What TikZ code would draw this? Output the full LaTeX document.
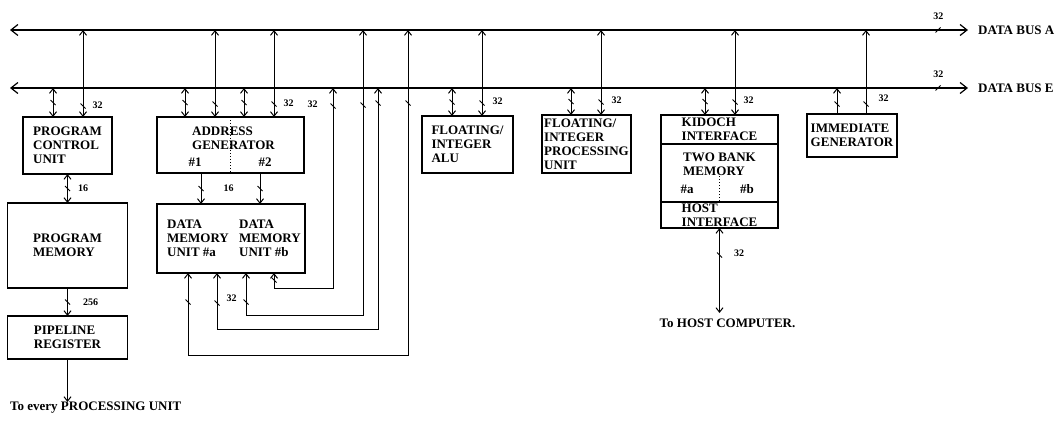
\documentclass[tikz,border=0pt]{standalone}
\usepackage{fontspec}
\setmainfont{Liberation Serif}
\usetikzlibrary{positioning,arrows.meta,decorations.markings}

\begin{document}
\begin{tikzpicture}[x=1pt, y=-1pt,
  unit/.style={draw, line width=1.3pt, outer sep=0pt, inner sep=0pt, align=left,
    font=\bfseries\fontsize{13}{14}\selectfont},
  txt/.style={inner sep=0pt, align=left, font=\bfseries\fontsize{13}{14}\selectfont},
  num/.style={inner sep=0pt, font=\bfseries\fontsize{10}{10}\selectfont},
  bus/.style={line width=1.2pt, {Straight Barb[length=7pt,width=11pt]}-{Straight Barb[length=7pt,width=11pt]}},
  link/.style={line width=1pt, {Straight Barb[length=4.5pt,width=7pt]}-{Straight Barb[length=4.5pt,width=7pt]}},
  feed/.style={line width=1pt, -{Straight Barb[length=4.5pt,width=7pt]}},
  bw/.style={postaction={decorate, decoration={markings,
    mark=at position #1 with {\draw[-, line width=1pt] (-2.5pt,-2.5pt) -- (2.5pt,2.5pt);}}}},
  bw/.default=0.5]
\useasboundingbox (0,0) rectangle (1064,420);

\coordinate (aW) at (10,30);
\coordinate (aE) at (968,30);
\coordinate (eW) at (10,88);
\coordinate (eE) at (968,88);
\draw[bus, bw=-30pt] (aW) -- node[num, pos=0.969, above=10pt] {32} (aE);
\draw[bus, bw=-30pt] (eW) -- node[num, pos=0.969, above=10pt] {32} (eE);
\node[txt, right=10pt of aE] (busA) {DATA BUS A};
\node[txt, right=10pt of eE] (busE) {DATA BUS E};

\node[unit, minimum width=89pt, minimum height=57pt] (pcu) at (67.5,145.5) {PROGRAM\\CONTROL\\UNIT};
\node[unit, minimum width=120pt, minimum height=85pt] (pm) at (67.5,245.5) {PROGRAM\\MEMORY};
\node[unit, minimum width=120pt, minimum height=43pt] (pr) at (67.5,337.5) {PIPELINE\\REGISTER};
\coordinate (pu) at (67.5,402);
\node[txt, anchor=north west] (puText) at (10,402) {To every PROCESSING UNIT};

\node[unit, minimum width=147pt, minimum height=56pt] (ag) at (230.5,145) {};
\node[txt, below=10pt of ag.north, xshift=3pt] (agName) {ADDRESS\\GENERATOR};
\node[txt] (ag1) at (195,162) {\#1};
\node[txt] (ag2) at (265,162) {\#2};
\draw[dotted, line width=1pt] (ag.north) -- (ag.south);

\node[unit, minimum width=148pt, minimum height=69pt] (dmu) at (231,238.5) {};
\node[txt, right=10pt of dmu.west] (dmuA) {DATA\\MEMORY\\UNIT \#a};
\node[txt, left=4pt of dmu.east] (dmuB) {DATA\\MEMORY\\UNIT \#b};

\node[unit, minimum width=91pt, minimum height=57pt] (alu) at (467.5,144.5) {FLOATING/\\INTEGER\\ALU};
\node[unit, minimum width=89pt, minimum height=58pt] (fipu) at (586.5,144) {FLOATING/\\INTEGER\\PROCESSING\\UNIT};

\node[unit, minimum width=117pt, minimum height=29pt] (kif) at (719.5,129.5) {KIDOCH\\INTERFACE};
\node[unit, minimum width=117pt, minimum height=58pt, below=0pt of kif] (tbm) {};
\node[unit, minimum width=117pt, minimum height=26pt, below=0pt of tbm] (hif) {HOST\\INTERFACE};
\node[txt, below=9pt of tbm.north] (tbmName) {TWO BANK\\MEMORY};
\node[txt] (tbmA) at (687,189) {\#a};
\node[txt] (tbmB) at (747,189) {\#b};
\draw[dotted, line width=1pt] ([yshift=-32pt]tbm.north) -- (tbm.south);
\coordinate (hc) at (719.5,313);
\node[txt, below=6pt of hc, xshift=8pt] (hcText) {To HOST COMPUTER.};

\node[unit, minimum width=90pt, minimum height=43pt] (img) at (852,135.5) {IMMEDIATE\\GENERATOR};

\draw[link, bw] ([xshift=-14.5pt]pcu.north) -- ([xshift=-14.5pt]pcu.north |- eW);
\draw[link, bw=11pt] ([xshift=15.5pt]pcu.north) -- node[num, pos=0.13, right=9pt] {32} ([xshift=15.5pt]pcu.north |- aW);
\draw[link, bw] (pcu) -- node[num, right=10pt] {16} (pm);
\draw[feed, bw] (pm) -- node[num, right=15pt] {256} (pr);
\draw[feed] (pr) -- (pu);

\draw[link, bw] ([xshift=-45.5pt]ag.north) -- ([xshift=-45.5pt]ag.north |- eW);
\draw[link, bw=13pt] ([xshift=-15.5pt]ag.north) -- ([xshift=-15.5pt]ag.north |- aW);
\draw[link, bw] ([xshift=13.5pt]ag.north) -- ([xshift=13.5pt]ag.north |- eW);
\draw[link, bw=13pt] ([xshift=43.5pt]ag.north) -- node[num, pos=0.16, right=9pt] {32} ([xshift=43.5pt]ag.north |- aW);
\draw[feed, bw] ([xshift=-29.5pt]ag.south) -- node[num, right=22pt] {16} ([xshift=-29.5pt]ag.south |- dmu.north);
\draw[feed, bw] ([xshift=29.5pt]ag.south) -- ([xshift=29.5pt]ag.south |- dmu.north);

\coordinate (t1) at (408,30);
\coordinate (t2) at (378,88);
\coordinate (t3) at (363,30);
\coordinate (t4) at (333,88);
\draw[link, bw=29pt, bw=-73pt] ([xshift=-43pt]dmu.south) -- ++(0,82) -| (t1);
\draw[link, bw=30pt, bw=-15pt] ([xshift=-14pt]dmu.south) -- node[num, pos=0.45, right=9pt] {32} ++(0,56) -| (t2);
\draw[link, bw=29pt, bw=-75pt] ([xshift=15pt]dmu.south) -- ++(0,42) -| (t3);
\draw[link, bw=7pt, bw=-18pt] ([xshift=43pt]dmu.south) -- ++(0,15) -| node[num, pos=0.96, left=15pt] {32} (t4);

\draw[link, bw] ([xshift=-15.5pt]alu.north) -- ([xshift=-15.5pt]alu.north |- eW);
\draw[link, bw=13pt] ([xshift=14.5pt]alu.north) -- node[num, pos=0.17, right=10pt] {32} ([xshift=14.5pt]alu.north |- aW);
\draw[link, bw] ([xshift=-15.5pt]fipu.north) -- ([xshift=-15.5pt]fipu.north |- eW);
\draw[link, bw=13pt] ([xshift=14.5pt]fipu.north) -- node[num, pos=0.17, right=10pt] {32} ([xshift=14.5pt]fipu.north |- aW);
\draw[link, bw] ([xshift=-14.5pt]kif.north) -- ([xshift=-14.5pt]kif.north |- eW);
\draw[link, bw=13pt] ([xshift=15.5pt]kif.north) -- node[num, pos=0.17, right=8pt] {32} ([xshift=15.5pt]kif.north |- aW);
\draw[link, bw=27pt] (hif) -- node[num, pos=0.3, right=14pt] {32} (hc);
\draw[feed, bw=10pt] ([xshift=-15pt]img.north) -- ([xshift=-15pt]img.north |- eW);
\draw[feed, bw=10pt] ([xshift=14pt]img.north) -- node[num, pos=0.19, right=12pt] {32} ([xshift=14pt]img.north |- aW);
\end{tikzpicture}
\end{document}
